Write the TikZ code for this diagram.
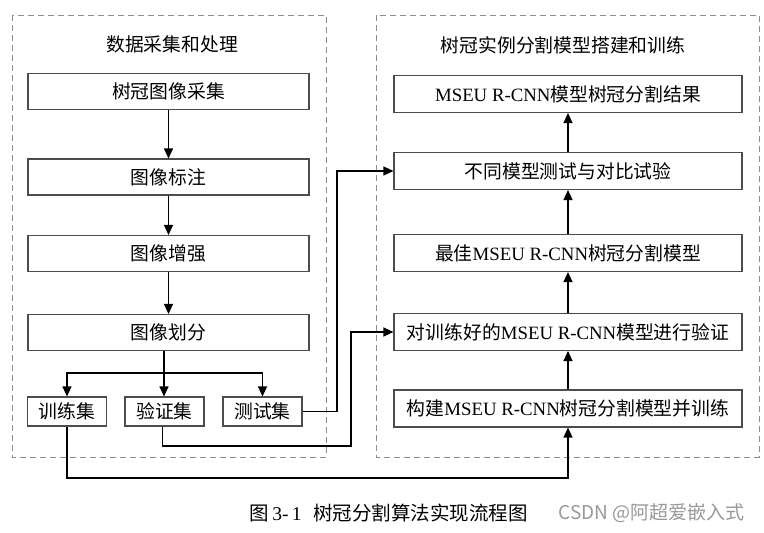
\documentclass[tikz,border=0pt]{standalone}
\usepackage{fontspec}
\setmainfont{Liberation Serif}
\newfontfamily\cjk{Noto Sans CJK SC}
\newfontfamily\csdnfont{Noto Sans CJK SC}
\usetikzlibrary{arrows.meta}
\begin{document}
\begin{tikzpicture}[x=1pt,y=-1pt,
  box/.style={draw=black!70,line width=1.1pt,fill=white,inner sep=0pt,font=\fontsize{18.8}{20}\selectfont\cjk},
  lbox/.style={box,minimum width=281,minimum height=36},
  rbox/.style={box,minimum width=348,minimum height=37},
  sbox/.style={box,minimum width=79,minimum height=29},
  grp/.style={draw=black!45,dash pattern=on 6pt off 4pt,line width=0.8pt},
  conn/.style={line width=1.2pt,-{Triangle[length=10pt,width=9pt]}},
  ttl/.style={font=\fontsize{18.8}{20}\selectfont\cjk}
]
\useasboundingbox (0,0) rectangle (764,533);
\fill[white] (0,0) rectangle (764,533);
\draw[grp] (12,15) rectangle (326,457);
\draw[grp] (376,15) rectangle (759,457);
\node[ttl] (t1) at (172,44) {数据采集和处理};
\node[ttl] (t2) at (563,45) {树冠实例分割模型搭建和训练};
% left column
\node[lbox] (a1) at (168.5,91.5) {树冠图像采集};
\node[lbox] (a2) at (168.5,177) {图像标注};
\node[lbox] (a3) at (168.5,253.5) {图像增强};
\node[lbox] (a4) at (168.5,332.5) {图像划分};
\node[sbox] (s1) at (67,411.5) {训练集};
\node[sbox] (s2) at (164.5,411.5) {验证集};
\node[sbox] (s3) at (262.5,411.5) {测试集};
% right column
\node[rbox] (r5) at (568,94) {{\rmfamily MSEU R-CNN}模型树冠分割结果};
\node[rbox] (r4) at (568,171) {不同模型测试与对比试验};
\node[rbox] (r3) at (568,253) {最佳{\rmfamily MSEU R-CNN}树冠分割模型};
\node[rbox] (r2) at (568,332) {对训练好的{\rmfamily MSEU R-CNN}模型进行验证};
\node[rbox] (r1) at (568,408.5) {构建{\rmfamily MSEU R-CNN}树冠分割模型并训练};
% left arrows
\draw[conn] (a1) -- (a2);
\draw[conn] (a2) -- (a3);
\draw[conn] (a3) -- (a4);
\coordinate (sp) at (164,373);
\draw[conn] (a4.south -| sp) -- (s2.north -| sp);
\draw[conn] (sp) -| (s1.north);
\draw[conn] (sp) -| (s3.north);
% right arrows
\draw[conn] (r1) -- (r2);
\draw[conn] (r2) -- (r3);
\draw[conn] (r3) -- (r4);
\draw[conn] (r4) -- (r5);
% cross connectors
\coordinate (c1) at (337,171);
\draw[conn] (s3.east) -| (c1) -- (r4.west);
\coordinate (c2) at (351,446);
\draw[conn] (s2.south -| 162.5,0) |- (c2) |- (r2.west);
\coordinate (c3) at (67,478);
\draw[conn] (s1.south) -- (c3) -| (r1.south);
% caption
\node[anchor=west,font=\fontsize{19.5}{21}\selectfont] (cap) at (246,513) {{\cjk 图}\,3-\,1\hspace{0.6em}{\cjk 树冠分割算法实现流程图}};
\node[anchor=west,text=black!40,font=\fontsize{19}{21}\selectfont\csdnfont] (csdn) at (555,513) {CSDN @阿超爱嵌入式};
\end{tikzpicture}
\end{document}
